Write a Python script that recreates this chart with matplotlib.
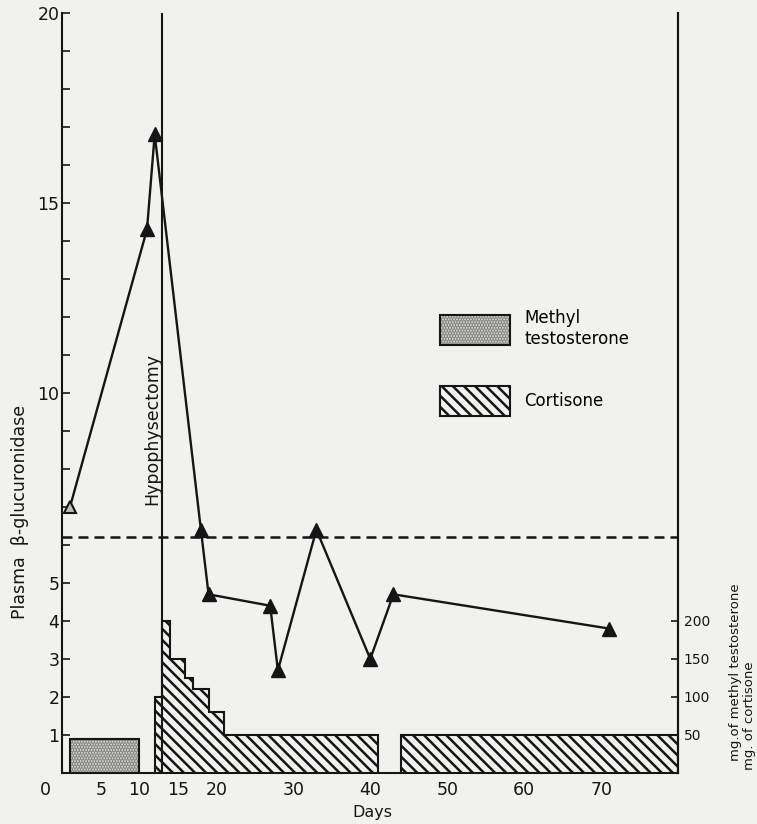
import matplotlib
matplotlib.use('Agg')
import matplotlib.pyplot as plt
import matplotlib.patches as mpatches

# Plasma beta-glucuronidase readings (day, value)
days = [1, 11, 12, 18, 19, 27, 28, 33, 40, 43, 71]
glucuronidase = [7.0, 14.3, 16.8, 6.4, 4.7, 4.4, 2.7, 6.4, 3.0, 4.7, 3.8]
normal_level = 6.2
hypophysectomy_day = 13

# Drug doses, mg per day (start day, end day, dose)
mt_start = [1]
mt_end = [10]
mt_dose = [45]
cort_start = [12, 13, 14, 16, 17, 19, 21, 44]
cort_end = [13, 14, 16, 17, 19, 21, 41, 80]
cort_dose = [100, 200, 150, 125, 110, 80, 50, 50]
mg_per_unit = 50

x_ticks = list(range(0, 81, 5))
x_labels = ['' if d in (0, 25, 35, 45, 55, 65, 75, 80) else str(d) for d in x_ticks]
y_ticks = list(range(0, 21))
y_labels = [str(v) if v in (1, 2, 3, 4, 5, 10, 15, 20) else '' for v in y_ticks]
mg_ticks = [50, 100, 150, 200]

bg = '#f1f1ef'
ink = '#151515'
dot_ink = '#7a7a78'
mt_fill = '#e6e6e4'
cort_hatch = '\\\\\\'
mt_hatch = '......'
plt.rcParams['hatch.linewidth'] = 1.8
plt.rcParams['font.family'] = ['DejaVu Sans']

fig = plt.figure(figsize=(7.57, 8.24), dpi=100, facecolor=bg)
ax = fig.add_axes([0.0823, 0.0619, 0.8137, 0.9227])
ax.set_facecolor('none')
ax.set_xlim(0, 80)
ax.set_ylim(0, 20)


# group contiguous dose periods so each block gets one outline
def dose_groups(starts, ends, doses):
    groups = []
    for s, e, d in zip(starts, ends, doses):
        if groups and groups[-1][0][-1] == s:
            groups[-1][0].append(e)
            groups[-1][1].append(d / mg_per_unit)
        else:
            groups.append(([s, e], [d / mg_per_unit]))
    return groups


for edges, vals in dose_groups(mt_start, mt_end, mt_dose):
    ax.stairs(vals, edges, fill=True, facecolor=mt_fill, edgecolor=dot_ink,
              hatch=mt_hatch, linewidth=0, zorder=2)
    ax.stairs(vals, edges, fill=True, facecolor='none', edgecolor=ink,
              linewidth=1.5, zorder=2)
for edges, vals in dose_groups(cort_start, cort_end, cort_dose):
    ax.stairs(vals, edges, fill=True, facecolor=bg, edgecolor=ink,
              hatch=cort_hatch, linewidth=1.5, zorder=2)

# normal level and operation marker
ax.axhline(normal_level, color=ink, lw=1.8, ls=(0, (4, 2.4)), zorder=3)
ax.axvline(hypophysectomy_day, color=ink, lw=1.5, zorder=3)
ax.text(hypophysectomy_day - 0.15, 7.05, 'Hypophysectomy', rotation=90,
        ha='right', va='bottom', fontsize=12.5, color=ink)

# glucuronidase curve
ax.plot(days, glucuronidase, color=ink, lw=1.7, zorder=4)
ax.plot(days[1:], glucuronidase[1:], ls='none', marker='^', ms=10,
        color=ink, zorder=5)
ax.plot(days[:1], glucuronidase[:1], ls='none', marker='^', ms=9,
        mfc='#bdbdbb', mec=ink, mew=1.5, zorder=5)

# axes styling
for side in ['left', 'bottom', 'right']:
    ax.spines[side].set_linewidth(1.5)
    ax.spines[side].set_color(ink)
ax.spines['top'].set_visible(False)
ax.set_xticks(x_ticks)
ax.set_xticklabels(x_labels)
ax.set_yticks(y_ticks)
ax.set_yticklabels(y_labels)
ax.tick_params(axis='x', direction='in', length=5, width=1.2, pad=6,
               labelsize=12.5, colors=ink)
ax.tick_params(axis='y', direction='in', length=6, width=1.2, pad=2,
               labelsize=12.5, colors=ink)
ax.annotate('0', xy=(0, 0), xytext=(-12, -6), textcoords='offset points',
            ha='center', va='top', fontsize=12.5, color=ink)

ax2 = ax.twinx()
ax2.set_ylim(0, 20 * mg_per_unit)
ax2.set_yticks(mg_ticks)
ax2.tick_params(axis='y', direction='in', length=5, width=1.2, pad=4,
                labelsize=10, colors=ink)
for side in ['left', 'bottom', 'top']:
    ax2.spines[side].set_visible(False)
ax2.spines['right'].set_linewidth(1.5)
ax2.spines['right'].set_color(ink)

fig.text(372 / 757, 1 - 812 / 824, 'Days', ha='center', va='center',
         fontsize=11.5, color=ink)
fig.text(20 / 757, 1 - 512 / 824, 'Plasma  β-glucuronidase', rotation=90,
         ha='center', va='center', fontsize=12.5, color=ink)
fig.text(736 / 757, 1 - 672 / 824, 'mg.of methyl testosterone', rotation=90,
         ha='center', va='center', fontsize=9.5, color=ink)
fig.text(749 / 757, 1 - 716 / 824, 'mg. of cortisone', rotation=90,
         ha='center', va='center', fontsize=9.5, color=ink)

mt_handle = (
    mpatches.Patch(facecolor=mt_fill, edgecolor=dot_ink, hatch=mt_hatch,
                   linewidth=0),
    mpatches.Patch(facecolor='none', edgecolor=ink, linewidth=1.5),
)
cort_handle = mpatches.Patch(facecolor=bg, edgecolor=ink, hatch=cort_hatch,
                             linewidth=1.5)
fig.legend([mt_handle, cort_handle], ['Methyl\ntestosterone', 'Cortisone'],
           loc='upper left', bbox_to_anchor=(440 / 757, 1 - 309 / 824),
           frameon=False, fontsize=12, handlelength=4.2, handleheight=2.35,
           labelspacing=2.3, handletextpad=0.85, borderpad=0,
           borderaxespad=0)

fig.savefig('out.png', dpi=100, facecolor=bg)
